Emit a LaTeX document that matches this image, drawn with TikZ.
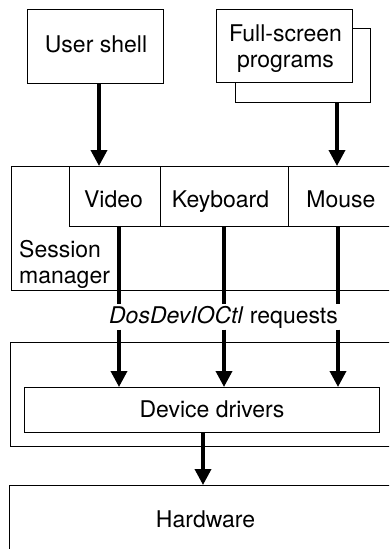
\documentclass[tikz,border=0pt]{standalone}
\usepackage{fontspec}
\setmainfont{TeX Gyre Heros}
\usetikzlibrary{arrows.meta}
\begin{document}
\begin{tikzpicture}[x=1pt,y=-1pt,
  box/.style={draw, line width=0.9pt, inner sep=0pt, anchor=north west, fill=white},
  lbl/.style={inner sep=0pt, align=center},
  bl/.style={inner sep=0pt, anchor=base},
  conn/.style={line width=3.6pt},
  arr/.style={line width=3.6pt, -{Triangle[length=16pt,width=16pt]}},
  font=\fontsize{23}{26}\selectfont]
\useasboundingbox (0,0) rectangle (389,549);
\clip (0,0) rectangle (389,549);
% top boxes
\node[box, minimum width=136pt, minimum height=74pt] (shell) at (27,9) {};
\node[bl] (shelltxt) at (96,52) {User shell};
\node[box, minimum width=135pt, minimum height=74pt] (fsback) at (235,28) {};
\node[box, minimum width=136pt, minimum height=73pt] (fs) at (216,9) {};
\node[lbl] (fstxt) at (285.5,49) {Full-screen\\programs};
% session manager
\node[box, minimum width=400pt, minimum height=124pt] (sess) at (11,166) {};
\node[box, minimum width=91pt, minimum height=60pt] (video) at (69,166) {};
\node[box, minimum width=128pt, minimum height=60pt] (kbd) at (160,166) {};
\node[box, minimum width=130pt, minimum height=60pt] (mouse) at (288,166) {};
\node[bl] (videotxt) at (113.5,207) {Video};
\node[bl] (kbdtxt) at (220.5,207) {Keyboard};
\node[bl] (mousetxt) at (341,207) {Mouse};
\node[lbl, align=left, anchor=west] (smtxt) at (19,264) {Session\\manager};
% drivers layer
\node[box, minimum width=400pt, minimum height=104pt] (drvout) at (10,342) {};
\node[box, minimum width=355pt, minimum height=45pt] (drv) at (24,387) {};
\node[bl] (drvtxt) at (212,417) {Device drivers};
% hardware
\node[box, minimum width=400pt, minimum height=100pt] (hw) at (9,485) {};
\node[bl] (hwtxt) at (205.5,527) {Hardware};
% request label
\node[lbl, minimum height=25pt] (req) at (223.5,317) {\textit{DosDevIOCtl} requests};
% connectors
\draw[arr] (shell.south -| 99,0) -- (video.north -| 99,0);
\draw[arr] (fsback.south -| 337,0) -- (mouse.north -| 337,0);
\foreach \n/\x in {video/119,kbd/224,mouse/338}{
  \draw[conn] (\n.south -| \x,0) -- (req.north -| \x,0);
  \draw[arr] (req.south -| \x,0) -- (drv.north -| \x,0);
}
\draw[arr] (drv.south -| 203,0) -- (hw.north -| 203,0);
\end{tikzpicture}
\end{document}
